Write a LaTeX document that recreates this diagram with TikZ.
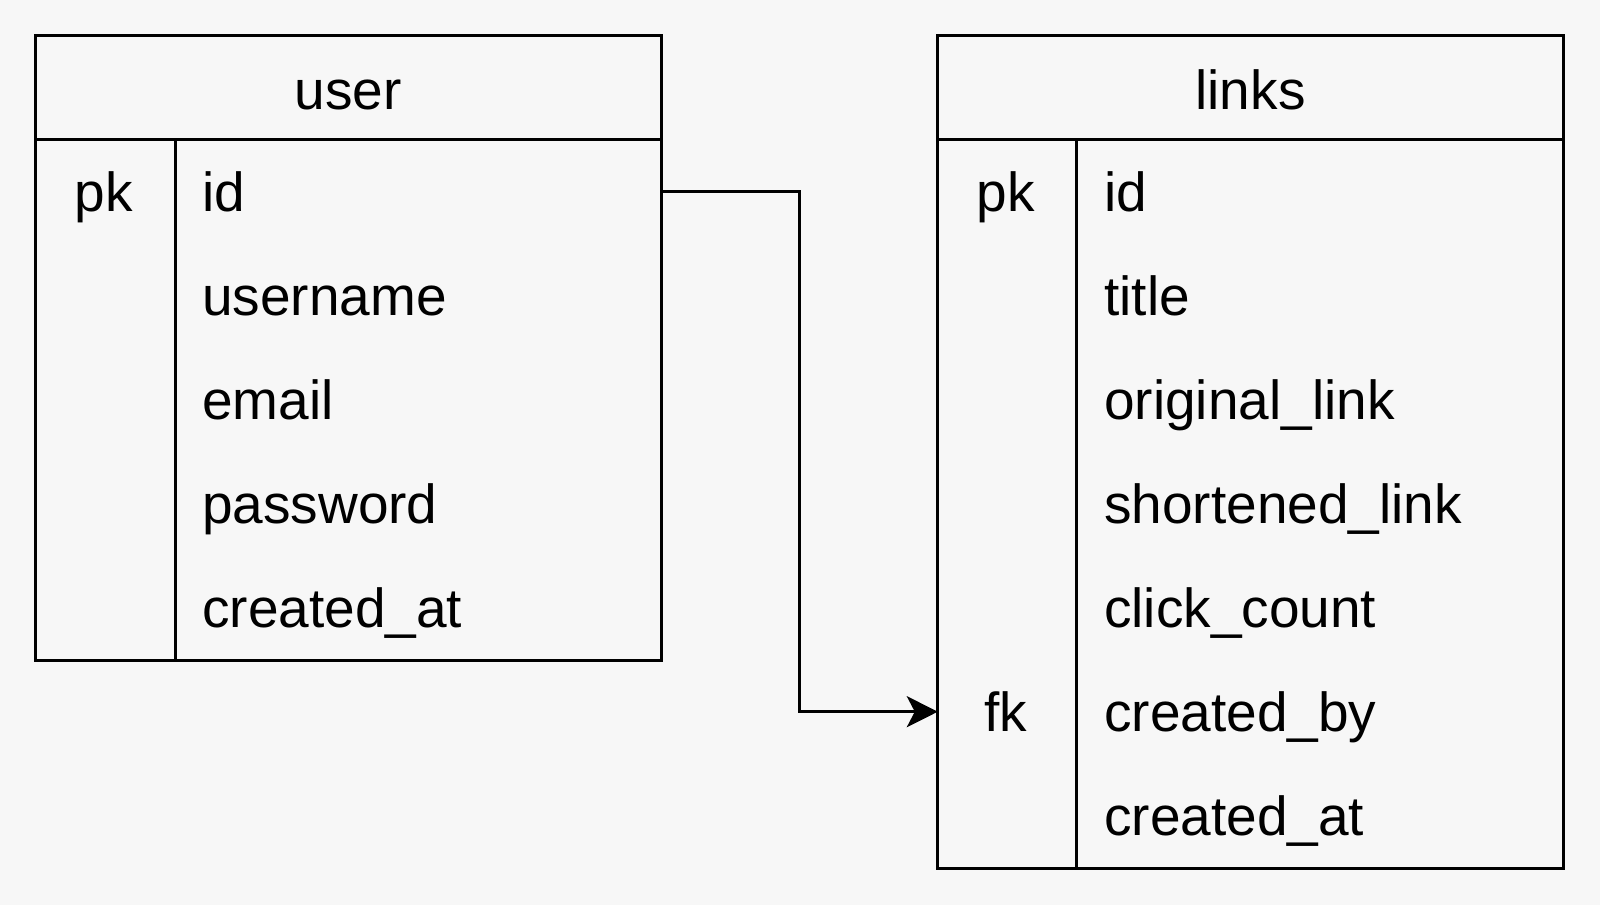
\documentclass[tikz,border=0pt]{standalone}
\usepackage{fontspec}
\setmainfont{Liberation Sans}
\usetikzlibrary{arrows.meta,calc}
\definecolor{bgc}{HTML}{F7F7F7}
\begin{document}
\begin{tikzpicture}[x=1pt,y=-1pt,
  tbl/.style={draw=black,line width=3pt,fill=none},
  hdr/.style={font=\fontsize{55}{60}\selectfont,anchor=base},
  fld/.style={font=\fontsize{55}{60}\selectfont,anchor=base west,inner sep=0pt},
  key/.style={font=\fontsize{55}{60}\selectfont,anchor=base,inner sep=0pt},
  rowbox/.style={draw=none,inner sep=0pt,minimum height=104pt,anchor=west},
  conn/.style={line width=3pt,-{Stealth[length=31pt,width=31pt,inset=8pt]}}]
\fill[bgc] (0,0) rectangle (1600,905);
\useasboundingbox (0,0) rectangle (1600,905);
% user table
\draw[tbl] (35.7,35.7) rectangle (661,660);
\draw[tbl] (35.7,139.8) -- (661,139.8);
\draw[tbl] (175.5,139.8) -- (175.5,660);
\node[hdr] (userh) at (348.4,109) {user};
\node[key] (upk) at (104,211.5) {pk};
\node[fld] (uid) at (202,211.5) {id};
\node[fld] (uusername) at (202,315.5) {username};
\node[fld] (uemail) at (202,419.5) {email};
\node[fld] (upassword) at (202,523.5) {password};
\node[fld] (ucreated) at (202,627.5) {created\_at};
\node[rowbox,minimum width=485.5pt] (uidrow) at (175.5,191.8) {};
% links table
\draw[tbl] (937.8,35.7) rectangle (1563.3,868.4);
\draw[tbl] (937.8,139.8) -- (1563.3,139.8);
\draw[tbl] (1076.5,139.8) -- (1076.5,868.4);
\node[hdr] (linksh) at (1250.5,109) {links};
\node[key] (lpk) at (1006,211.5) {pk};
\node[fld] (lid) at (1104,211.5) {id};
\node[fld] (ltitle) at (1104,315.5) {title};
\node[fld] (lorig) at (1104,419.5) {original\_link};
\node[fld] (lshort) at (1104,523.5) {shortened\_link};
\node[fld] (lclick) at (1104,627.5) {click\_count};
\node[key] (lfk) at (1006,731.5) {fk};
\node[fld] (lcby) at (1104,731.5) {created\_by};
\node[fld] (lcat) at (1104,835.5) {created\_at};
\node[rowbox,minimum width=625.5pt] (lcbyrow) at (937.8,711.7) {};
% connector
\coordinate (mid) at (799,400);
\draw[conn] (uidrow.east) -| (mid) |- (lcbyrow.west);
\end{tikzpicture}
\end{document}
